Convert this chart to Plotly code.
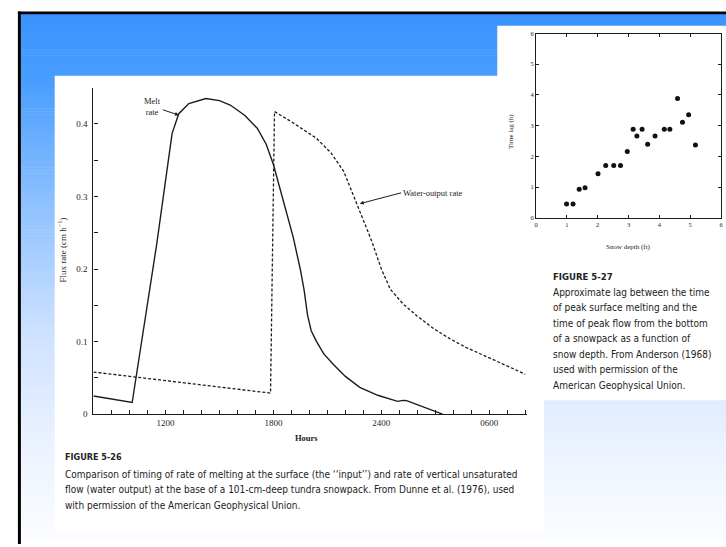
import plotly.graph_objects as go

W, H = 726, 547

# ---------------- data ----------------
# Figure 5-26: melt rate (solid) and water-output rate (dashed), flux rate (cm/h) vs clock hour
melt_hours = [8.0, 10.15, 11.5, 12.37, 12.74, 13.3, 14.25, 15.0, 15.6, 16.4, 17.1, 17.6, 18.0,
              18.6, 19.1, 19.5, 19.7, 19.9, 20.1, 20.4, 20.8, 21.35, 22.0, 22.8, 23.8, 24.9,
              25.2, 25.4, 27.4]
melt_rate = [0.025, 0.016, 0.232, 0.387, 0.414, 0.428, 0.435, 0.432, 0.426, 0.412, 0.394, 0.372,
             0.344, 0.29, 0.244, 0.199, 0.172, 0.136, 0.115, 0.100, 0.083, 0.068, 0.052, 0.037,
             0.026, 0.0176, 0.019, 0.0186, 0.0]

output_hours = [8.0, 17.84, 18.06, 19.0, 20.4, 21.2, 21.9, 22.4, 22.8, 23.2, 23.5, 24.0, 24.5,
                25.2, 26.0, 26.9, 27.8, 28.7, 29.6, 30.8, 32.0]
output_rate = [0.058, 0.029, 0.417, 0.403, 0.380, 0.360, 0.335, 0.305, 0.281, 0.255, 0.236, 0.200,
               0.172, 0.152, 0.135, 0.118, 0.104, 0.092, 0.082, 0.068, 0.055]

hour_tick_vals = [12, 18, 24, 30]
hour_tick_text = ["1200", "1800", "2400", "0600"]
flux_tick_vals = [0, 0.1, 0.2, 0.3, 0.4]
flux_tick_text = ["0", "0.1", "0.2", "0.3", "0.4"]

# Figure 5-27: time lag (h) vs snow depth (ft)
snow_depth = [0.99, 1.2, 1.4, 1.59, 2.01, 2.26, 2.52, 2.74, 2.96, 3.15, 3.27, 3.44, 3.62, 3.86,
              4.16, 4.34, 4.59, 4.75, 4.95, 5.17]
time_lag = [0.45, 0.45, 0.93, 0.98, 1.43, 1.70, 1.70, 1.70, 2.16, 2.88, 2.66, 2.88, 2.39, 2.66,
            2.88, 2.88, 3.88, 3.11, 3.35, 2.37]
lag_tick_vals = [0, 1, 2, 3, 4, 5, 6]
lag_tick_text = ["0", "1", "2", "3", "4", "5", "6"]

caption_26 = [
    "Comparison of timing of rate of melting at the surface (the \u2018\u2018input\u2019\u2019) and rate of vertical unsaturated",
    "flow (water output) at the base of a 101-cm-deep tundra snowpack. From Dunne et al. (1976), used",
    "with permission of the American Geophysical Union.",
]
caption_27 = [
    "Approximate lag between the time",
    "of peak surface melting and the",
    "time of peak flow from the bottom",
    "of a snowpack as a function of",
    "snow depth. From Anderson (1968)",
    "used with permission of the",
    "American Geophysical Union.",
]

# ---------------- helpers ----------------
def px(x):
    return x / W


def py(y):
    return 1 - y / H


SERIF = "Liberation Serif, Times New Roman, serif"
NARROW = "Liberation Sans Narrow, Arial Narrow, DejaVu Sans Condensed, sans-serif"
INK = "#1c1c1c"
CAP = "#222222"

fig = go.Figure()

fig.add_trace(go.Scatter(x=melt_hours, y=melt_rate, mode="lines",
                         line=dict(color=INK, width=1.4), xaxis="x", yaxis="y",
                         hoverinfo="skip", showlegend=False))
fig.add_trace(go.Scatter(x=output_hours, y=output_rate, mode="lines",
                         line=dict(color=INK, width=1.3, dash="3px,2px"), xaxis="x", yaxis="y",
                         hoverinfo="skip", showlegend=False))
fig.add_trace(go.Scatter(x=snow_depth, y=time_lag, mode="markers",
                         marker=dict(color="#111111", size=5), xaxis="x2", yaxis="y2",
                         hoverinfo="skip", showlegend=False))

# ---------------- background shapes ----------------
shapes = []
stops = [(0.0, (58, 148, 255)), (0.12, (72, 157, 255)), (0.35, (140, 192, 255)),
         (0.6, (205, 225, 255)), (0.8, (234, 241, 255)), (1.0, (252, 253, 255))]


def grad(t):
    for (t0, c0), (t1, c1) in zip(stops[:-1], stops[1:]):
        if t <= t1:
            f = (t - t0) / (t1 - t0)
            return "rgb(%d,%d,%d)" % tuple(round(a + (b - a) * f) for a, b in zip(c0, c1))
    return "rgb(%d,%d,%d)" % stops[-1][1]


y0 = 10
step = 3
while y0 < H:
    t = (y0 - 10) / (H - 10)
    shapes.append(dict(type="rect", xref="paper", yref="paper", layer="below",
                       x0=px(19), x1=px(W + 2), y0=py(y0 + step + 0.6), y1=py(y0),
                       fillcolor=grad(t), line=dict(width=0)))
    y0 += step

# white panels
for (a, b, c, d) in [(53, 73, 545, 537), (498, 22, 728, 260), (545, 255, 728, 403)]:
    shapes.append(dict(type="rect", xref="paper", yref="paper", layer="below",
                       x0=px(a), x1=px(c), y0=py(d), y1=py(b),
                       fillcolor="white", line=dict(width=0)))
# black frame
shapes.append(dict(type="rect", xref="paper", yref="paper", layer="below",
                   x0=px(16), x1=px(W + 2), y0=py(10.5), y1=py(7.5),
                   fillcolor="black", line=dict(width=0)))
shapes.append(dict(type="rect", xref="paper", yref="paper", layer="below",
                   x0=px(16), x1=px(19), y0=py(H + 2), y1=py(7.5),
                   fillcolor="black", line=dict(width=0)))

# ---------------- annotations ----------------
ann = []


def label(xp, yp, text, size, family=SERIF, xanchor="center", angle=0, color=INK):
    ann.append(dict(xref="paper", yref="paper", x=px(xp), y=py(yp), text=text,
                    xanchor=xanchor, yanchor="middle", textangle=angle, showarrow=False,
                    font=dict(family=family, size=size, color=color)))


# left chart texts
label(60, 250, "Flux rate (cm h<sup>\u22121</sup>)", 9, angle=-90)
label(306, 441, "<b>Hours</b>", 8.5)
ann.append(dict(xref="x", yref="y", x=12.75, y=0.412, axref="x", ayref="y", ax=11.3, ay=0.424,
                text="Melt<br>rate", showarrow=True, arrowhead=2, arrowsize=0.8, arrowwidth=1,
                arrowcolor=INK, font=dict(family=SERIF, size=8.5, color=INK)))
ann.append(dict(xref="x", yref="y", x=22.8, y=0.29, axref="x", ayref="y", ax=25.1, ay=0.305,
                xanchor="left", yanchor="middle", text="Water-output rate", showarrow=True, arrowhead=2,
                arrowsize=0.8, arrowwidth=1, arrowcolor=INK, font=dict(family=SERIF, size=8.5, color=INK)))
# right chart titles
label(512, 130, "Time lag (h)", 7, angle=-90)
label(630, 247, "Snow depth (ft)", 7)

# captions
label(61, 461, "<b>FIGURE 5-26</b>", 9, family=NARROW, xanchor="left", color=CAP)
for i, line in enumerate(caption_26):
    label(61, 478 + 16 * i, line, 10, family=NARROW, xanchor="left", color=CAP)
label(552, 277, "<b>FIGURE 5-27</b>", 9.5, family=NARROW, xanchor="left", color=CAP)
for i, line in enumerate(caption_27):
    label(552, 293 + 15.8 * i, line, 10, family=NARROW, xanchor="left", color=CAP)

# ---------------- axes ----------------
hour_all = list(range(9, 33))
hour_text = [hour_tick_text[hour_tick_vals.index(h)] if h in hour_tick_vals else "" for h in hour_all]
flux_all = [round(0.05 * k, 2) for k in range(0, 10)]
flux_text = [flux_tick_text[flux_tick_vals.index(v)] if v in flux_tick_vals else "" for v in flux_all]

fig.update_layout(
    width=W, height=H,
    margin=dict(l=0, r=0, t=0, b=0),
    paper_bgcolor="white", plot_bgcolor="rgba(0,0,0,0)",
    shapes=shapes, annotations=ann, showlegend=False,
    xaxis=dict(domain=[px(92), px(528)], range=[8, 32.1], anchor="y",
               tickmode="array", tickvals=hour_all, ticktext=hour_text,
               ticks="inside", ticklen=4, tickwidth=1, tickcolor=INK,
               showline=True, linecolor=INK, linewidth=1.2, showgrid=False, zeroline=False,
               tickfont=dict(family=SERIF, size=9, color=INK), fixedrange=True),
    yaxis=dict(domain=[py(417), py(85)], range=[0, 0.45], anchor="x",
               tickmode="array", tickvals=flux_all + [0.45], ticktext=flux_text + [""],
               ticks="inside", ticklen=4, tickwidth=1, tickcolor=INK,
               showline=True, linecolor=INK, linewidth=1.2, showgrid=False, zeroline=False,
               tickfont=dict(family=SERIF, size=9, color=INK), ticklabelstandoff=3, fixedrange=True),
    xaxis2=dict(domain=[px(537), px(723)], range=[0, 6], anchor="y2",
                tickmode="array", tickvals=lag_tick_vals, ticktext=lag_tick_text,
                ticks="inside", ticklen=3, tickwidth=1, tickcolor=INK, mirror="ticks",
                showline=True, linecolor=INK, linewidth=1, showgrid=False, zeroline=False,
                tickfont=dict(family=SERIF, size=6.5, color=INK), fixedrange=True),
    yaxis2=dict(domain=[py(217.3), py(30)], range=[0, 6], anchor="x2",
                tickmode="array", tickvals=lag_tick_vals, ticktext=lag_tick_text,
                ticks="inside", ticklen=3, tickwidth=1, tickcolor=INK, mirror="ticks",
                showline=True, linecolor=INK, linewidth=1, showgrid=False, zeroline=False,
                tickfont=dict(family=SERIF, size=6.5, color=INK), fixedrange=True),
)

fig.write_html("out.html", config={"displayModeBar": False},
               post_script="document.body.style.margin='0';document.body.style.overflow='hidden';")
